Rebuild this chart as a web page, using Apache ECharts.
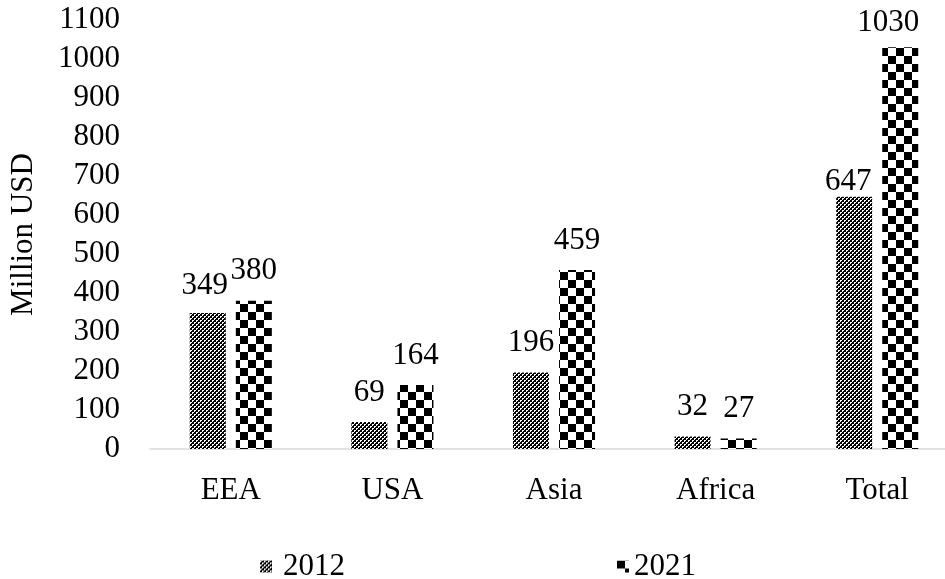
<!DOCTYPE html>
<html>
<head>
<meta charset="utf-8">
<script src="https://cdn.jsdelivr.net/npm/echarts@6/dist/echarts.min.js"></script>
<style>
  html, body { margin: 0; padding: 0; background: #fff; overflow: hidden; }
  #chart { width: 960px; height: 579px; }
</style>
</head>
<body>
<div id="chart"></div>
<script>
const categories = ['EEA', 'USA', 'Asia', 'Africa', 'Total'];
const seriesNames = ['2012', '2021'];
const values2012 = [349, 69, 196, 32, 647];
const values2021 = [380, 164, 459, 27, 1030];
const yTicks = { min: 0, max: 1100, interval: 100 };

// Per-label nudges (pixels) for labels that sit off the default spot
const labelShift2012 = [[-3, 2], [0, 0], [0, 0], [0, 0], [-6, 15]];
const labelShift2021 = [[0, 0], [0, 0], [0, 0], [0, 0], [-12, 5]];

// Fine dotted fill for the 2012 bars
function finePattern() {
  const c = document.createElement('canvas');
  c.width = 4; c.height = 4;
  const g = c.getContext('2d');
  g.fillStyle = '#000'; g.fillRect(0, 0, 4, 4);
  g.fillStyle = '#fff';
  g.fillRect(0, 0, 2, 1); g.fillRect(0, 1, 1, 1);
  g.fillRect(2, 2, 2, 1); g.fillRect(2, 3, 1, 1);
  return c;
}

// Large checkerboard fill for the 2021 bars
function checkerPattern() {
  const s = 8;
  const c = document.createElement('canvas');
  c.width = 2 * s; c.height = 2 * s;
  const g = c.getContext('2d');
  g.fillStyle = '#fff'; g.fillRect(0, 0, 2 * s, 2 * s);
  g.fillStyle = '#000';
  g.fillRect(0, 0, s, s);
  g.fillRect(s, s, s, s);
  return c;
}

const fill2012 = { image: finePattern(), repeat: 'repeat' };
const fill2021 = { image: checkerPattern(), repeat: 'repeat' };

const font = 'Liberation Serif';
const fontSize = 31;

const labelStyle = {
  show: true,
  position: 'top',
  distance: 14,
  color: '#000',
  fontFamily: font,
  fontSize: fontSize
};

function withLabels(values, shifts) {
  return values.map((v, i) => ({ value: v, label: { offset: shifts[i] } }));
}

const chart = echarts.init(document.getElementById('chart'), null, { renderer: 'canvas' });

chart.setOption({
  animation: false,
  backgroundColor: '#fff',
  grid: { left: 146, top: 20, width: 812, height: 429, containLabel: false },
  legend: {
    data: [
      { name: seriesNames[0], textStyle: { padding: [0, 0, 0, 6] } },
      { name: seriesNames[1], textStyle: { padding: [0, 0, 0, 0] } }
    ],
    left: 255,
    top: 546,
    itemWidth: 12,
    itemHeight: 12,
    itemGap: 272,
    icon: 'rect',
    textStyle: { fontFamily: font, fontSize: fontSize, color: '#000' }
  },
  xAxis: {
    type: 'category',
    data: categories,
    axisLine: { lineStyle: { color: '#d9d9d9', width: 1.5 } },
    axisTick: { show: false },
    axisLabel: { color: '#000', fontFamily: font, fontSize: fontSize, margin: 26 }
  },
  yAxis: {
    type: 'value',
    min: yTicks.min,
    max: yTicks.max,
    interval: yTicks.interval,
    name: 'Million USD',
    nameLocation: 'middle',
    nameRotate: 90,
    nameGap: 111,
    nameTextStyle: { color: '#000', fontFamily: font, fontSize: fontSize },
    axisLine: { show: false },
    axisTick: { show: false },
    splitLine: { show: false },
    axisLabel: {
      color: '#000', fontFamily: font, fontSize: fontSize, margin: 30,
      formatter: v => String(v)
    }
  },
  series: [
    {
      name: seriesNames[0],
      type: 'bar',
      data: withLabels(values2012, labelShift2012),
      barWidth: 36,
      barGap: '28%',
      itemStyle: { color: fill2012 },
      label: labelStyle
    },
    {
      name: seriesNames[1],
      type: 'bar',
      data: withLabels(values2021, labelShift2021),
      barWidth: 36,
      barGap: '28%',
      itemStyle: { color: fill2021 },
      label: labelStyle
    }
  ]
});
</script>
</body>
</html>
